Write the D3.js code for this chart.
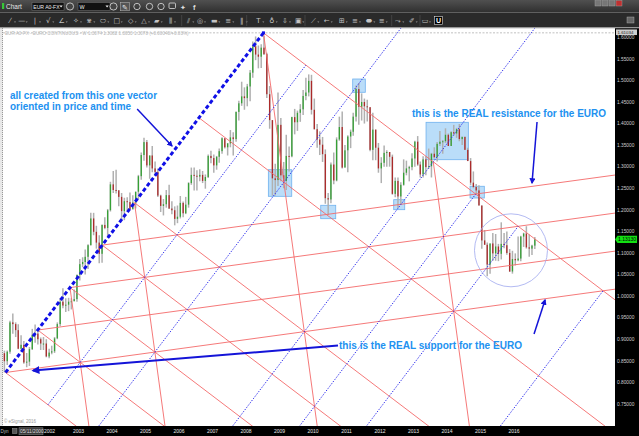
<!DOCTYPE html>
<html><head><meta charset="utf-8">
<script src="https://cdn.jsdelivr.net/npm/d3@7"></script>
<style>body{margin:0;background:#fff;overflow:hidden}svg{display:block}</style>
</head><body><svg id="c" width="639" height="436"></svg>
<script>
// ---------------- DATA ----------------
// Monthly EUR/USD bars, starting October 2000
const firstMonth = [2000, 9];
const firstOpen = 0.8675;
const highs = [
0.8735,0.8740,0.9430,
0.9595,0.9390,0.9345,0.9090,0.8960,0.8680,0.8820,0.9240,0.9340,0.9220,0.9040,0.9050,
0.9000,0.8780,0.8850,0.9050,0.9390,0.9950,1.0180,0.9950,0.9960,0.9950,1.0150,1.0500,
1.0860,1.0900,1.1080,1.1200,1.1930,1.1930,1.1630,1.1410,1.1660,1.1830,1.2020,1.2650,
1.2900,1.2930,1.2460,1.2390,1.2280,1.2290,1.2400,1.2340,1.2420,1.2810,1.3330,1.3670,
1.3620,1.3260,1.3480,1.3120,1.2960,1.2350,1.2250,1.2460,1.2580,1.2200,1.2080,1.2100,
1.2320,1.2190,1.2300,1.2640,1.2980,1.2980,1.2920,1.2940,1.2900,1.2820,1.3280,1.3370,
1.3280,1.3250,1.3420,1.3680,1.3650,1.3550,1.3850,1.3800,1.4280,1.4530,1.4970,1.4840,
1.4920,1.5240,1.5900,1.6020,1.5810,1.5840,1.6038,1.5640,1.4870,1.4080,1.3070,1.4720,
1.4130,1.3110,1.3740,1.3470,1.4160,1.4340,1.4300,1.4450,1.4780,1.5060,1.5140,1.5130,
1.4580,1.3990,1.3820,1.3690,1.3400,1.2390,1.3100,1.3330,1.3680,1.4160,1.4280,1.3500,
1.3730,1.3860,1.4250,1.4880,1.4940,1.4700,1.4580,1.4550,1.4280,1.4250,1.3830,1.3550,
1.3220,1.3490,1.3380,1.3280,1.3280,1.2750,1.2750,1.2640,1.3170,1.3140,1.3020,1.3310,
1.3600,1.3710,1.3120,1.3240,1.3240,1.3420,1.3320,1.3450,1.3570,1.3830,1.3620,1.3890,
1.3770,1.3820,1.3970,1.3900,1.3990,1.3700,1.3700,1.3440,1.3200,1.2890,1.2600,1.2570,
1.2100,1.1530,1.1240,1.1220,1.1460,1.1440,1.1210,1.1710,1.1460,1.1500,1.1090,1.1050,
1.0990,1.1380,1.1400,1.1470,1.1620,1.1430,1.1190,1.1370];
const lows = [
0.8228,0.8400,0.8660,
0.9125,0.9050,0.8770,0.8760,0.8430,0.8350,0.8380,0.8750,0.8920,0.8880,0.8750,0.8750,
0.8580,0.8560,0.8650,0.8680,0.9000,0.9300,0.9720,0.9630,0.9650,0.9690,0.9880,0.9870,
1.0360,1.0670,1.0500,1.0630,1.1170,1.1410,1.1100,1.0760,1.0770,1.1550,1.1390,1.1960,
1.2390,1.2380,1.2080,1.1760,1.1760,1.1980,1.2000,1.2000,1.2030,1.2250,1.2700,1.3140,
1.2980,1.2720,1.2870,1.2810,1.2300,1.1950,1.1870,1.2050,1.2020,1.1900,1.1640,1.1690,
1.1800,1.1830,1.1900,1.2050,1.2580,1.2450,1.2450,1.2660,1.2620,1.2490,1.2740,1.3080,
1.2860,1.2930,1.3090,1.3300,1.3420,1.3260,1.3450,1.3260,1.3580,1.4070,1.4410,1.4320,
1.4400,1.4520,1.5060,1.5470,1.5280,1.5290,1.5590,1.4590,1.3880,1.2330,1.2330,1.2550,
1.2660,1.2500,1.2460,1.2890,1.3220,1.3750,1.3830,1.4040,1.4200,1.4540,1.4630,1.4210,
1.3860,1.3440,1.3270,1.3110,1.2140,1.1880,1.2150,1.2590,1.2660,1.3600,1.2960,1.3050,
1.2870,1.3430,1.3720,1.4050,1.3970,1.4070,1.4000,1.4050,1.3360,1.3150,1.3150,1.2860,
1.2620,1.3000,1.3000,1.3000,1.2350,1.2290,1.2040,1.2130,1.2560,1.2800,1.2660,1.2920,
1.3000,1.3020,1.2750,1.2750,1.2800,1.2950,1.2750,1.3190,1.3120,1.3480,1.3300,1.3550,
1.3480,1.3480,1.3720,1.3670,1.3590,1.3500,1.3390,1.3130,1.2570,1.2500,1.2360,1.2100,
1.1100,1.1190,1.0460,1.0520,1.0820,1.0820,1.0810,1.0850,1.1110,1.0960,1.0560,1.0520,
1.0710,1.0810,1.0810,1.1140,1.1100,1.0910,1.0950,1.1090];
const closes = [
0.8490,0.8710,0.9390,
0.9350,0.9210,0.8780,0.8870,0.8460,0.8480,0.8770,0.9100,0.9130,0.9000,0.8900,0.8900,
0.8600,0.8690,0.8720,0.9020,0.9350,0.9870,0.9780,0.9800,0.9870,0.9880,0.9930,1.0490,
1.0740,1.0790,1.0910,1.1180,1.1800,1.1490,1.1240,1.0980,1.1650,1.1580,1.1990,1.2590,
1.2460,1.2450,1.2300,1.1970,1.2200,1.2180,1.2020,1.2170,1.2420,1.2780,1.3270,1.3570,
1.3030,1.3260,1.2960,1.2880,1.2330,1.2090,1.2130,1.2340,1.2030,1.1990,1.1790,1.1840,
1.2160,1.1920,1.2120,1.2620,1.2810,1.2790,1.2770,1.2810,1.2670,1.2760,1.3250,1.3200,
1.3030,1.3230,1.3360,1.3660,1.3450,1.3540,1.3680,1.3640,1.4270,1.4470,1.4630,1.4590,
1.4860,1.5180,1.5790,1.5600,1.5550,1.5760,1.5610,1.4680,1.4080,1.2730,1.2690,1.3970,
1.2800,1.2670,1.3250,1.3240,1.4150,1.4030,1.4250,1.4330,1.4640,1.4720,1.4990,1.4320,
1.3870,1.3630,1.3510,1.3290,1.2270,1.2240,1.3050,1.2680,1.3630,1.3920,1.2980,1.3380,
1.3700,1.3810,1.4160,1.4800,1.4390,1.4500,1.4400,1.4380,1.3390,1.3860,1.3440,1.2960,
1.3090,1.3320,1.3340,1.3230,1.2370,1.2670,1.2310,1.2580,1.2860,1.2960,1.2990,1.3190,
1.3580,1.3050,1.2820,1.3170,1.2990,1.3010,1.3300,1.3220,1.3530,1.3580,1.3590,1.3740,
1.3480,1.3800,1.3770,1.3870,1.3640,1.3690,1.3390,1.3130,1.2630,1.2530,1.2450,1.2100,
1.1290,1.1190,1.0730,1.1220,1.0990,1.1150,1.0980,1.1210,1.1180,1.1000,1.0570,1.0860,
1.0830,1.0870,1.1380,1.1450,1.1130,1.1100,1.1170,1.1313];

const yearLabels = [2003,2004,2005,2006,2007,2008,2009,2010,2011,2012,2013,2014,2015,2016];
const partialYearLabel = 2002;
const priceTicks = [0.75,0.80,0.85,0.90,0.95,1.00,1.05,1.10,1.15,1.20,1.25,1.30,1.35,1.40,1.45,1.50,1.55,1.60];
const lastPrice = 1.1313;
const topDashedPrice = 1.61034;

// the one vector: Oct-2000 low to Jul-2008 high (decimal year, price)
const vectorStart = [2000.82, 0.8228];
const vectorEnd = [2008.52, 1.6103];

// lattice lines in vector units: [[s1,t1],[s2,t2]] (s along vector, t perpendicular)
const redDescending = [[[0,0],[0,0.35]],[[0.125,0],[0.125,0.5]],[[0.25,0],[0.25,0.7]],[[0.375,0],[0.375,0.8]],[[0.5,0],[0.5,1.0]],[[0.75,0],[0.75,1.3]],[[1,0],[1,1.2]]];
const redShallow = [[[0,0],[1.2,1.2]],[[0.125,0],[1.3,1.175]],[[0.25,0],[1.4,1.15]],[[0.375,0],[1.5,1.125]]];
const redSteep = [[[0.25,0],[0,0.25]],[[0.5,0],[0,0.5]],[[1,0],[0.2,0.8]],[[1,0.5],[0.4,1.1]]];
const blueGrid = [[[0,0.125],[1,0.125]],[[0,0.25],[1.7,0.25]],[[0,0.5],[1.7,0.5]],[[0,0.625],[1,0.625]],[[0,0.75],[1,0.75]],[[0.3,1],[1,1]]];

// highlight boxes: [year1, year2, priceTop, priceBottom]
const boxes = [[2008.666,2009.364,1.2930,1.2313],[2010.23,2010.678,1.2105,1.1794],[2011.185,2011.561,1.5033,1.4725],
  [2012.409,2012.737,1.2235,1.2003],[2013.373,2014.636,1.4029,1.3162],[2014.687,2015.113,1.2546,1.2274]];
const circleCenter = [2015.91, 1.1061];
const circleRadiusPrice = 0.0846;

// annotations
const notes = [
  {text:"all created from this one vector", at:[2000.955,1.4581], width:147},
  {text:"oriented in price and time", at:[2000.955,1.4303], width:121},
  {text:"this is the REAL resistance for the EURO", at:[2012.955,1.4152], width:194},
  {text:"this is the REAL support for the EURO", at:[2010.776,0.8764], width:183}
];
const arrows = [
  {from:[2004.75,1.434], to:[2005.79,1.348], w:1.5},
  {from:[2016.686,1.4036], to:[2016.537,1.2622], w:1.5},
  {from:[2010.746,0.8854], to:[2001.642,0.8274], w:2},
  {from:[2016.597,0.9121], to:[2016.925,0.9909], w:1.5}
];

// ---------------- DRAW ----------------
const svg = d3.select("#c");
const W = 639, H = 436;
const plot = {l:3, t:28, r:615, b:426};

function yd(v){ const y=Math.floor(v); const a=new Date(y,0,1), b=new Date(y+1,0,1); return new Date(+a + (v-y)*(b-a)); }
const x = d3.scaleTime().domain([new Date(2003,0,1), new Date(2016,0,1)]).range([78.5, 514]);
const y = d3.scaleLinear().domain([0.75,1.60]).range([403.9,37.3]);
const X = v => x(yd(v));

svg.append("rect").attr("width",W).attr("height",H).attr("fill","#fff");
const defs = svg.append("defs");
defs.append("clipPath").attr("id","pc").append("rect")
  .attr("x",plot.l).attr("y",plot.t).attr("width",plot.r-plot.l).attr("height",plot.b-plot.t);
defs.append("marker").attr("id","ah").attr("viewBox","0 0 10 10").attr("refX",8).attr("refY",5)
  .attr("markerWidth",4).attr("markerHeight",4).attr("orient","auto-start-reverse")
  .append("path").attr("d","M0,0L10,5L0,10z").attr("fill","#1414d8");

const g = svg.append("g").attr("clip-path","url(#pc)");

// left border
svg.append("rect").attr("x",0).attr("y",28).attr("width",3).attr("height",398).attr("fill","#e8e8e8");
svg.append("line").attr("x1",2.5).attr("x2",2.5).attr("y1",28).attr("y2",426).attr("stroke","#999").attr("stroke-dasharray","1 1");

// header text & dashed high line
g.append("line").attr("x1",plot.l).attr("x2",plot.r).attr("y1",y(topDashedPrice)).attr("y2",y(topDashedPrice))
  .attr("stroke","#b0b0b0").attr("stroke-dasharray","2 1.5").attr("stroke-width",0.8);
g.append("text").attr("x",5).attr("y",y(topDashedPrice)+1.8).attr("font-size",4.6).attr("fill","#b8b8b8")
  .attr("font-family","Liberation Sans, Arial").text("EUR A0-FX - EURO CONTINUOUS - W  1.3074  1.3082  1.3053  1.3078 (+0.00040/+0.03%)");
g.append("text").attr("x",4).attr("y",423).attr("font-size",4.5).attr("fill","#999")
  .attr("font-family","Liberation Sans, Arial").text("© eSignal, 2016");

// boxes
g.selectAll("rect.box").data(boxes).join("rect").attr("class","box")
  .attr("x",d=>X(d[0])).attr("width",d=>X(d[1])-X(d[0]))
  .attr("y",d=>y(d[2])).attr("height",d=>y(d[3])-y(d[2]))
  .attr("fill","#8cc6f5").attr("fill-opacity",0.6).attr("stroke","#6fb1ee").attr("stroke-width",0.8);

// candles
const bars = closes.map((c,i)=>({date:new Date(firstMonth[0], firstMonth[1]+i, 15), o: i===0?firstOpen:closes[i-1], h:highs[i], l:lows[i], c}));
g.selectAll("line.wick").data(bars).join("line").attr("class","wick")
  .attr("x1",d=>x(d.date)).attr("x2",d=>x(d.date))
  .attr("y1",d=>y(Math.max(d.h,d.o,d.c))).attr("y2",d=>y(Math.min(d.l,d.o,d.c)))
  .attr("stroke","#b0b0b0").attr("stroke-width",1.5);
g.selectAll("rect.body").data(bars).join("rect").attr("class","body")
  .attr("x",d=>x(d.date)-0.65).attr("width",1.3)
  .attr("y",d=>y(Math.max(d.o,d.c))).attr("height",d=>Math.max(1,Math.abs(y(d.o)-y(d.c))))
  .attr("fill",d=>d.c>=d.o?"#35a035":"#ab2a2a");

// lattice
const A = [X(vectorStart[0]), y(vectorStart[1])];
const B = [X(vectorEnd[0]), y(vectorEnd[1])];
const V = [B[0]-A[0], B[1]-A[1]];
const Wv = [-V[1], V[0]];
const P = ([s,t]) => [A[0]+s*V[0]+t*Wv[0], A[1]+s*V[1]+t*Wv[1]];
function drawLines(list, stroke, width, dash){
  g.selectAll(null).data(list).join("line")
    .attr("x1",d=>P(d[0])[0]).attr("y1",d=>P(d[0])[1]).attr("x2",d=>P(d[1])[0]).attr("y2",d=>P(d[1])[1])
    .attr("stroke",stroke).attr("stroke-width",width).attr("stroke-dasharray",dash);
}
drawLines(redDescending, "#f46a6a", 0.9, null);
drawLines(redShallow, "#f46a6a", 0.9, null);
drawLines(redSteep, "#f46a6a", 0.9, null);
drawLines(blueGrid, "#3434ee", 1, "1.4 1.4");
drawLines([[[0,0],[1,0]]], "#1010e6", 3, "4 2.5");
g.append("rect").attr("x",B[0]-1.5).attr("y",B[1]-1.5).attr("width",3).attr("height",3).attr("fill","#1010e6");

// circle
const cc = [X(circleCenter[0]), y(circleCenter[1])];
g.append("circle").attr("cx",cc[0]).attr("cy",cc[1]).attr("r",y(circleCenter[1]-circleRadiusPrice)-cc[1])
  .attr("fill","none").attr("stroke","#aab2f0").attr("stroke-width",0.9);

// arrows
g.selectAll(null).data(arrows).join("line")
  .attr("x1",d=>X(d.from[0])).attr("y1",d=>y(d.from[1])).attr("x2",d=>X(d.to[0])).attr("y2",d=>y(d.to[1]))
  .attr("stroke","#1414d8").attr("stroke-width",d=>d.w).attr("marker-end","url(#ah)");

// notes
g.selectAll(null).data(notes).join("text")
  .attr("x",d=>X(d.at[0])).attr("y",d=>y(d.at[1]))
  .attr("font-family","Liberation Sans, Arial, sans-serif").attr("font-weight","bold").attr("font-size",10.2)
  .attr("fill","#2191f0").attr("textLength",d=>d.width).attr("lengthAdjust","spacingAndGlyphs")
  .text(d=>d.text);

// ---------------- AXES ----------------
svg.append("rect").attr("x",plot.r).attr("y",28).attr("width",W-plot.r).attr("height",H-28).attr("fill","#000");
svg.append("rect").attr("x",0).attr("y",plot.b).attr("width",W).attr("height",H-plot.b).attr("fill","#000");
const fmt = d3.format(".5f");
svg.selectAll(null).data(priceTicks).join("text")
  .attr("x",617).attr("y",d=>y(d)+1.8).attr("font-size",4.8).attr("fill","#cfcfcf")
  .attr("font-family","Liberation Sans, Arial").text(d=>fmt(d));
// last price tag
svg.append("path").attr("d",`M${plot.r},${y(lastPrice)} L${plot.r+2.5},${y(lastPrice)-3.6} H637 V${y(lastPrice)+3.6} H${plot.r+2.5} Z`).attr("fill","#13e013");
svg.append("text").attr("x",618).attr("y",y(lastPrice)+1.8).attr("font-size",5).attr("fill","#000")
  .attr("font-family","Liberation Sans, Arial").text(fmt(lastPrice));
// top dashed price tag
svg.append("rect").attr("x",616).attr("y",y(topDashedPrice)-3.4).attr("width",21).attr("height",5.6).attr("fill","#cfcfcf");
svg.append("text").attr("x",617.5).attr("y",y(topDashedPrice)+0.9).attr("font-size",4.4).attr("fill","#222")
  .attr("font-family","Liberation Sans, Arial").text(fmt(topDashedPrice));
// years
svg.selectAll(null).data(yearLabels).join("text")
  .attr("x",d=>x(new Date(d,0,1))).attr("y",432.8).attr("text-anchor","middle")
  .attr("font-size",5).attr("fill","#e8e8e8").attr("font-family","Liberation Sans, Arial").text(d=>d);
svg.append("text").attr("x",44).attr("y",432.8).attr("font-size",5).attr("fill","#e8e8e8")
  .attr("font-family","Liberation Sans, Arial").text(partialYearLabel);
svg.append("text").attr("x",0.5).attr("y",433).attr("font-size",4.6).attr("fill","#bbb").attr("font-family","Liberation Sans, Arial").text("Dyn");
svg.append("rect").attr("x",12.5).attr("y",428.5).attr("width",4.5).attr("height",5).attr("fill","#555").attr("stroke","#999").attr("stroke-width",0.5);
svg.append("rect").attr("x",19).attr("y",427.8).attr("width",24).attr("height",7).attr("fill","#3a3a3a").attr("stroke","#8a8a8a").attr("stroke-width",0.5);
svg.append("text").attr("x",20).attr("y",433).attr("font-size",4.8).attr("fill","#ddd").attr("font-family","Liberation Sans, Arial").text("05/11/2000");

// ---------------- TOOLBAR ----------------
const tb = svg.append("g");
const grad = defs.append("linearGradient").attr("id","tg").attr("x1",0).attr("x2",0).attr("y1",0).attr("y2",1);
grad.append("stop").attr("offset",0).attr("stop-color","#505050");
grad.append("stop").attr("offset",1).attr("stop-color","#2f2f2f");
tb.append("rect").attr("width",W).attr("height",12.5).attr("fill","url(#tg)");
tb.append("rect").attr("y",12.5).attr("width",W).attr("height",15).attr("fill","#2a2a2a");
tb.append("rect").attr("y",27.3).attr("width",W).attr("height",1).attr("fill","#9a9a9a");
tb.append("rect").attr("x",2).attr("y",3).attr("width",2.2).attr("height",6).attr("fill","#37c837");
tb.append("text").attr("x",6).attr("y",8.8).attr("font-size",6.5).attr("fill","#e6e6e6").attr("font-family","Liberation Sans, Arial").text("Chart");
tb.append("rect").attr("x",32).attr("y",2.5).attr("width",32).attr("height",8).attr("fill","#111").attr("stroke","#777").attr("stroke-width",0.5);
tb.append("text").attr("x",33.3).attr("y",8.6).attr("font-size",5.1).attr("fill","#eee").attr("font-family","Liberation Sans, Arial").text("EUR A0-FX");
tb.append("path").attr("d","M59.5,5.5 h3.2 l-1.6,2 z").attr("fill","#eee");
tb.append("rect").attr("x",78).attr("y",2.5).attr("width",32).attr("height",8).attr("fill","#111").attr("stroke","#777").attr("stroke-width",0.5);
tb.append("text").attr("x",79.5).attr("y",8.6).attr("font-size",5.4).attr("fill","#eee").attr("font-family","Liberation Sans, Arial").text("W");
tb.append("path").attr("d","M105.5,5.5 h3.2 l-1.6,2 z").attr("fill","#eee");
[70,113.5].forEach(cx=>{ tb.append("circle").attr("cx",cx).attr("cy",6.5).attr("r",3.6).attr("fill","#444").attr("stroke","#ddd").attr("stroke-width",0.8); });
tb.append("rect").attr("x",120.5).attr("y",2.3).attr("width",9).attr("height",8.5).attr("fill","#555").attr("stroke","#bbb").attr("stroke-width",0.5);
tb.append("text").attr("x",122).attr("y",9.5).attr("font-size",7).attr("fill","#eee").text("✎");
[137,149.5,161].forEach(cx=>{ tb.append("circle").attr("cx",cx).attr("cy",6.5).attr("r",3.2).attr("fill","none").attr("stroke","#ddd").attr("stroke-width",0.8); });
tb.append("rect").attr("x",169).attr("y",3).attr("width",6.5).attr("height",5.5).attr("rx",1).attr("fill","none").attr("stroke","#ddd").attr("stroke-width",0.8);
tb.append("text").attr("x",180).attr("y",9.5).attr("font-size",7).attr("fill","#ddd").attr("font-family","DejaVu Sans").text("✦");
tb.append("text").attr("x",193).attr("y",9.5).attr("font-size",7.5).attr("font-weight","bold").attr("fill","#ddd").attr("font-family","Liberation Sans").text("f");
[[595,"#777"],[602,"#777"],[609,"#777"],[616,"#c03030"]].forEach(([bx,c])=>{ tb.append("rect").attr("x",bx).attr("y",0.5).attr("width",6).attr("height",5.5).attr("fill",c).attr("stroke","#aaa").attr("stroke-width",0.4); });
const icons = [[10,"⁄"],[21.7,"—"],[35,"|"],[48.3,"√"],[61.7,"∠"],[76,"✧"],[89.3,"⋇"],[103.3,"⬭"],[116.7,"□"],[130.7,"◇"],[144,"△"],[156.7,"▰"],[170,"⫼"],
  [188.3,"⫽"],[200,"◎"],[214.3,"▬"],[228.3,"≡"],[241.7,"‖"],[258.3,"T"],[271.7,"♁"],[285,"⇩"],[298.3,"▣"],[313.3,"⟋"],
  [326.7,"←"],[341.7,"⊞"],[355,"≡"],[369.3,"⬬"],[381.7,"≡"],[398.3,"⤳"],[411.7,"✐"],[425,"▭"]];
tb.selectAll(null).data(icons).join("text").attr("x",d=>d[0]).attr("y",23).attr("text-anchor","middle")
  .attr("font-size",7).attr("fill","#c4c4c4").attr("font-family","DejaVu Sans").text(d=>d[1]);
tb.selectAll(null).data(icons).join("path").attr("d",d=>`M${d[0]+4},${21.5} h2 l-1,1.3 z`).attr("fill","#9a9a9a");
[181.7,246.7,305,391.7,420].forEach(sx=>tb.append("line").attr("x1",sx).attr("x2",sx).attr("y1",15).attr("y2",26).attr("stroke","#555").attr("stroke-width",0.6));
tb.append("rect").attr("x",434.5).attr("y",16.5).attr("width",8).attr("height",8).attr("fill","#000").attr("stroke","#ddd").attr("stroke-width",0.6);
tb.append("text").attr("x",438.5).attr("y",23.3).attr("text-anchor","middle").attr("font-size",7).attr("font-weight","bold").attr("fill","#fff").attr("font-family","Liberation Sans").text("U");
tb.append("rect").attr("x",627).attr("y",17).attr("width",7).attr("height",6).attr("fill","#666").attr("stroke","#bbb").attr("stroke-width",0.4);
</script></body></html>
